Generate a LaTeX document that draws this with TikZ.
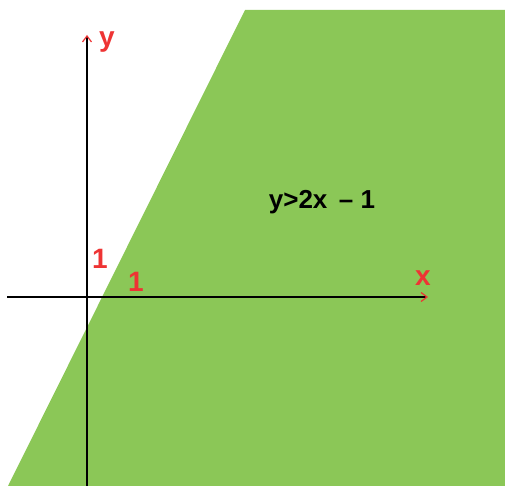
\documentclass[tikz,border=0pt]{standalone}
\usepackage{fontspec}
\setmainfont{Liberation Sans}
\usetikzlibrary{arrows.meta}
\definecolor{grn}{RGB}{139,199,87}
\definecolor{rd}{RGB}{238,52,52}
\begin{document}
\begin{tikzpicture}[x=1pt,y=-1pt,
  axis/.style={line width=2pt,black,-{Straight Barb[color=rd,length=6pt,width=9pt,line width=1.2pt]}},
  redlbl/.style={text=rd,font=\bfseries\fontsize{28}{30}\selectfont,inner sep=0pt,anchor=base},
  eqlbl/.style={text=black,font=\bfseries\fontsize{26}{28}\selectfont,inner sep=0pt,anchor=base}]
\useasboundingbox (0,0) rectangle (505,486);
\fill[grn] (245,10) -- (505,10) -- (505,486) -- (8,486) -- cycle;
\coordinate (xs) at (7,297);
\coordinate (xe) at (428,297);
\coordinate (ys) at (87,486);
\coordinate (ye) at (87,35);
\draw[axis] (xs) -- (xe);
\draw[axis] (ys) -- (ye);
\node[redlbl] (ly) at (107,47) {y};
\node[redlbl] (lx) at (423,285) {x};
\node[redlbl] (l1) at (100,268) {1};
\node[redlbl] (l2) at (136,291) {1};
\node[eqlbl] (eq) at (322,208) {y>2x \,– 1};
\end{tikzpicture}
\end{document}
